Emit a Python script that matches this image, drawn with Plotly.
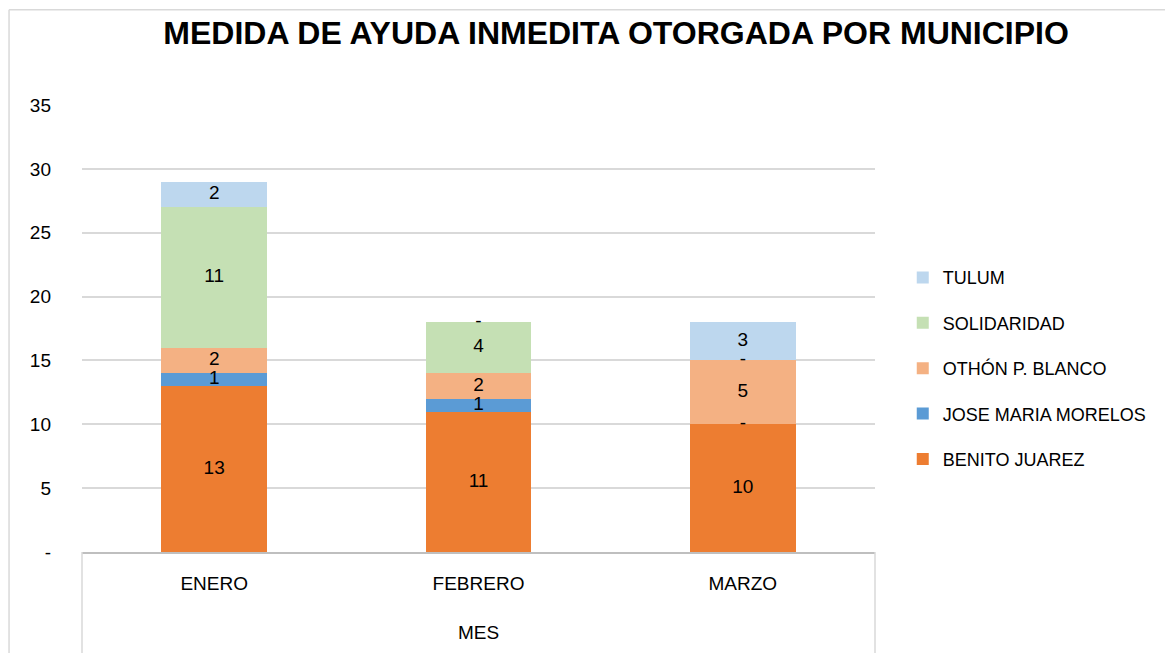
import plotly.graph_objects as go

months = ["ENERO", "FEBRERO", "MARZO"]
series_names = ["BENITO JUAREZ", "JOSE MARIA MORELOS", "OTHÓN P. BLANCO", "SOLIDARIDAD", "TULUM"]
benito_juarez = [13, 11, 10]
jose_maria_morelos = [1, 1, 0]
othon_p_blanco = [2, 2, 5]
solidaridad = [11, 4, 0]
tulum = [2, 0, 3]
colors = ["#ED7D31", "#5B9BD5", "#F4B183", "#C5E0B4", "#BDD7EE"]
y_tickvals = [0, 5, 10, 15, 20, 25, 30, 35]
y_ticktext = ["-", "5", "10", "15", "20", "25", "30", "35"]

all_series = [benito_juarez, jose_maria_morelos, othon_p_blanco, solidaridad, tulum]
FONT = "Liberation Sans, Arial, sans-serif"

fig = go.Figure()
cum = [0, 0, 0]
lab_x, lab_y, lab_t = [], [], []
n = len(series_names)
for i, (name, vals) in enumerate(zip(series_names, all_series)):
    fig.add_trace(go.Bar(
        x=months, y=vals, name=name, marker_color=colors[i],
        marker_line_width=0, legendgroup=name, legendrank=1000 - i,
        hoverinfo="x+y+name"))
    for j, v in enumerate(vals):
        lab_x.append(months[j])
        lab_y.append(cum[j] + v / 2)
        lab_t.append(str(v) if v else "-")
        cum[j] += v

fig.add_trace(go.Scatter(
    x=lab_x, y=lab_y, text=lab_t, mode="text", showlegend=False,
    textfont=dict(family=FONT, size=19, color="#000000"),
    textposition="middle center", hoverinfo="skip"))

fig.update_layout(
    width=1165, height=645,
    barmode="stack", bargap=0.6,
    paper_bgcolor="white", plot_bgcolor="white",
    margin=dict(l=74, r=298, t=97, b=101),
    title=dict(text="<b>MEDIDA DE AYUDA INMEDITA OTORGADA POR MUNICIPIO</b>",
               x=0.522, xanchor="center", y=0.961, yanchor="middle",
               font=dict(family=FONT, size=32, color="#000000")),
    legend=dict(traceorder="grouped", x=1.035, xanchor="left", y=0.655, yanchor="top",
                font=dict(family=FONT, size=18, color="#000000"),
                tracegroupgap=19, itemwidth=30),
    showlegend=True,
)
fig.update_yaxes(range=[0, 35], tickvals=y_tickvals, ticktext=y_ticktext,
                 showgrid=True, gridcolor="#D9D9D9", gridwidth=1.5,
                 zeroline=False, showline=False, ticks="", ticklabelstandoff=30,
                 tickfont=dict(family=FONT, size=19, color="#000000"))
fig.update_xaxes(showline=True, linecolor="#BFBFBF", linewidth=1.5, ticks="",
                 ticklabelstandoff=13,
                 tickfont=dict(family=FONT, size=19, color="#000000"),
                 title=dict(text="MES", standoff=33, font=dict(family=FONT, size=19, color="#000000")))

# category-axis box sides and outer chart border
for xp in (0, 1):
    fig.add_shape(type="line", xref="paper", yref="paper", x0=xp, x1=xp, y0=0, y1=-0.25,
                  line=dict(color="#D9D9D9", width=1.5))
fig.add_shape(type="line", xref="paper", yref="paper", x0=-0.092, x1=1.4, y0=1.213, y1=1.213,
              line=dict(color="#D9D9D9", width=1.5))
fig.add_shape(type="line", xref="paper", yref="paper", x0=-0.092, x1=-0.092, y0=1.213, y1=-0.3,
              line=dict(color="#D9D9D9", width=1.5))

fig.write_html("out.html")
